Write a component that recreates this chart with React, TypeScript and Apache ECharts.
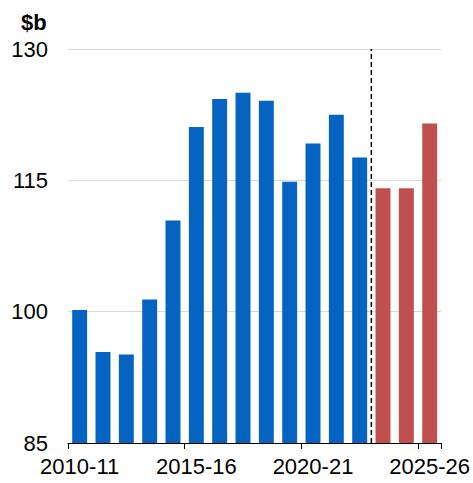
import React, { useEffect, useRef } from "react";
import * as echarts from "echarts";

const categories = [
  "2010-11", "2011-12", "2012-13", "2013-14", "2014-15", "2015-16", "2016-17", "2017-18",
  "2018-19", "2019-20", "2020-21", "2021-22", "2022-23", "2023-24", "2024-25", "2025-26",
];
const actualValues: (number | null)[] = [
  100.2, 95.4, 95.1, 101.4, 110.4, 121.1, 124.3, 125.0, 124.1, 114.85, 119.2, 122.5, 117.6,
  null, null, null,
];
const forecastValues: (number | null)[] = [
  null, null, null, null, null, null, null, null, null, null, null, null, null,
  114.1, 114.1, 121.5,
];
const yTicks = { min: 85, max: 130, interval: 15 };
const dividerAt = 13; // boundary after the last actual year (in category units)

export default function App() {
  const ref = useRef<HTMLDivElement>(null);
  useEffect(() => {
    document.body.style.margin = "0";
    if (!ref.current) return;
    const chart = echarts.init(ref.current, null, { renderer: "svg" });
    const font = "'Liberation Sans', Arial, sans-serif";
    chart.setOption({
      animation: false,
      textStyle: { fontFamily: font },
      title: {
        text: "$b",
        left: 16,
        top: 6,
        textStyle: { fontFamily: font, fontSize: 22, fontWeight: "bold", color: "#000" },
      },
      grid: { left: 68, right: 30, top: 49, bottom: 40, containLabel: false },
      xAxis: [
        {
          type: "category",
          data: categories,
          boundaryGap: true,
          axisLine: { show: true, lineStyle: { color: "#000", width: 1 } },
          axisTick: { show: true, interval: 4, length: 6, lineStyle: { color: "#000" } },
          axisLabel: { interval: 4, fontSize: 22, color: "#000", margin: 12, fontFamily: font },
          splitLine: { show: false },
        },
        {
          type: "value",
          min: 0,
          max: categories.length,
          show: false,
        },
      ],
      yAxis: {
        type: "value",
        min: yTicks.min,
        max: yTicks.max,
        interval: yTicks.interval,
        axisLine: { show: false },
        axisTick: { show: false },
        axisLabel: { fontSize: 22, color: "#000", margin: 20, fontFamily: font },
        splitLine: { show: true, lineStyle: { color: "#d9d9d9", width: 1 } },
      },
      series: [
        {
          type: "bar",
          data: actualValues,
          barWidth: "64%",
          barGap: "-100%",
          itemStyle: { color: "#0563C1" },
        },
        {
          type: "bar",
          data: forecastValues,
          barWidth: "64%",
          barGap: "-100%",
          itemStyle: { color: "#C0504D" },
        },
        {
          type: "line",
          xAxisIndex: 1,
          data: [
            [dividerAt, yTicks.min],
            [dividerAt, yTicks.max],
          ],
          showSymbol: false,
          symbol: "none",
          silent: true,
          z: 5,
          lineStyle: { color: "#000", type: [5, 3], width: 1.5 },
        },
      ],
    });
    return () => chart.dispose();
  }, []);
  return <div ref={ref} style={{ width: 473, height: 483 }} />;
}
